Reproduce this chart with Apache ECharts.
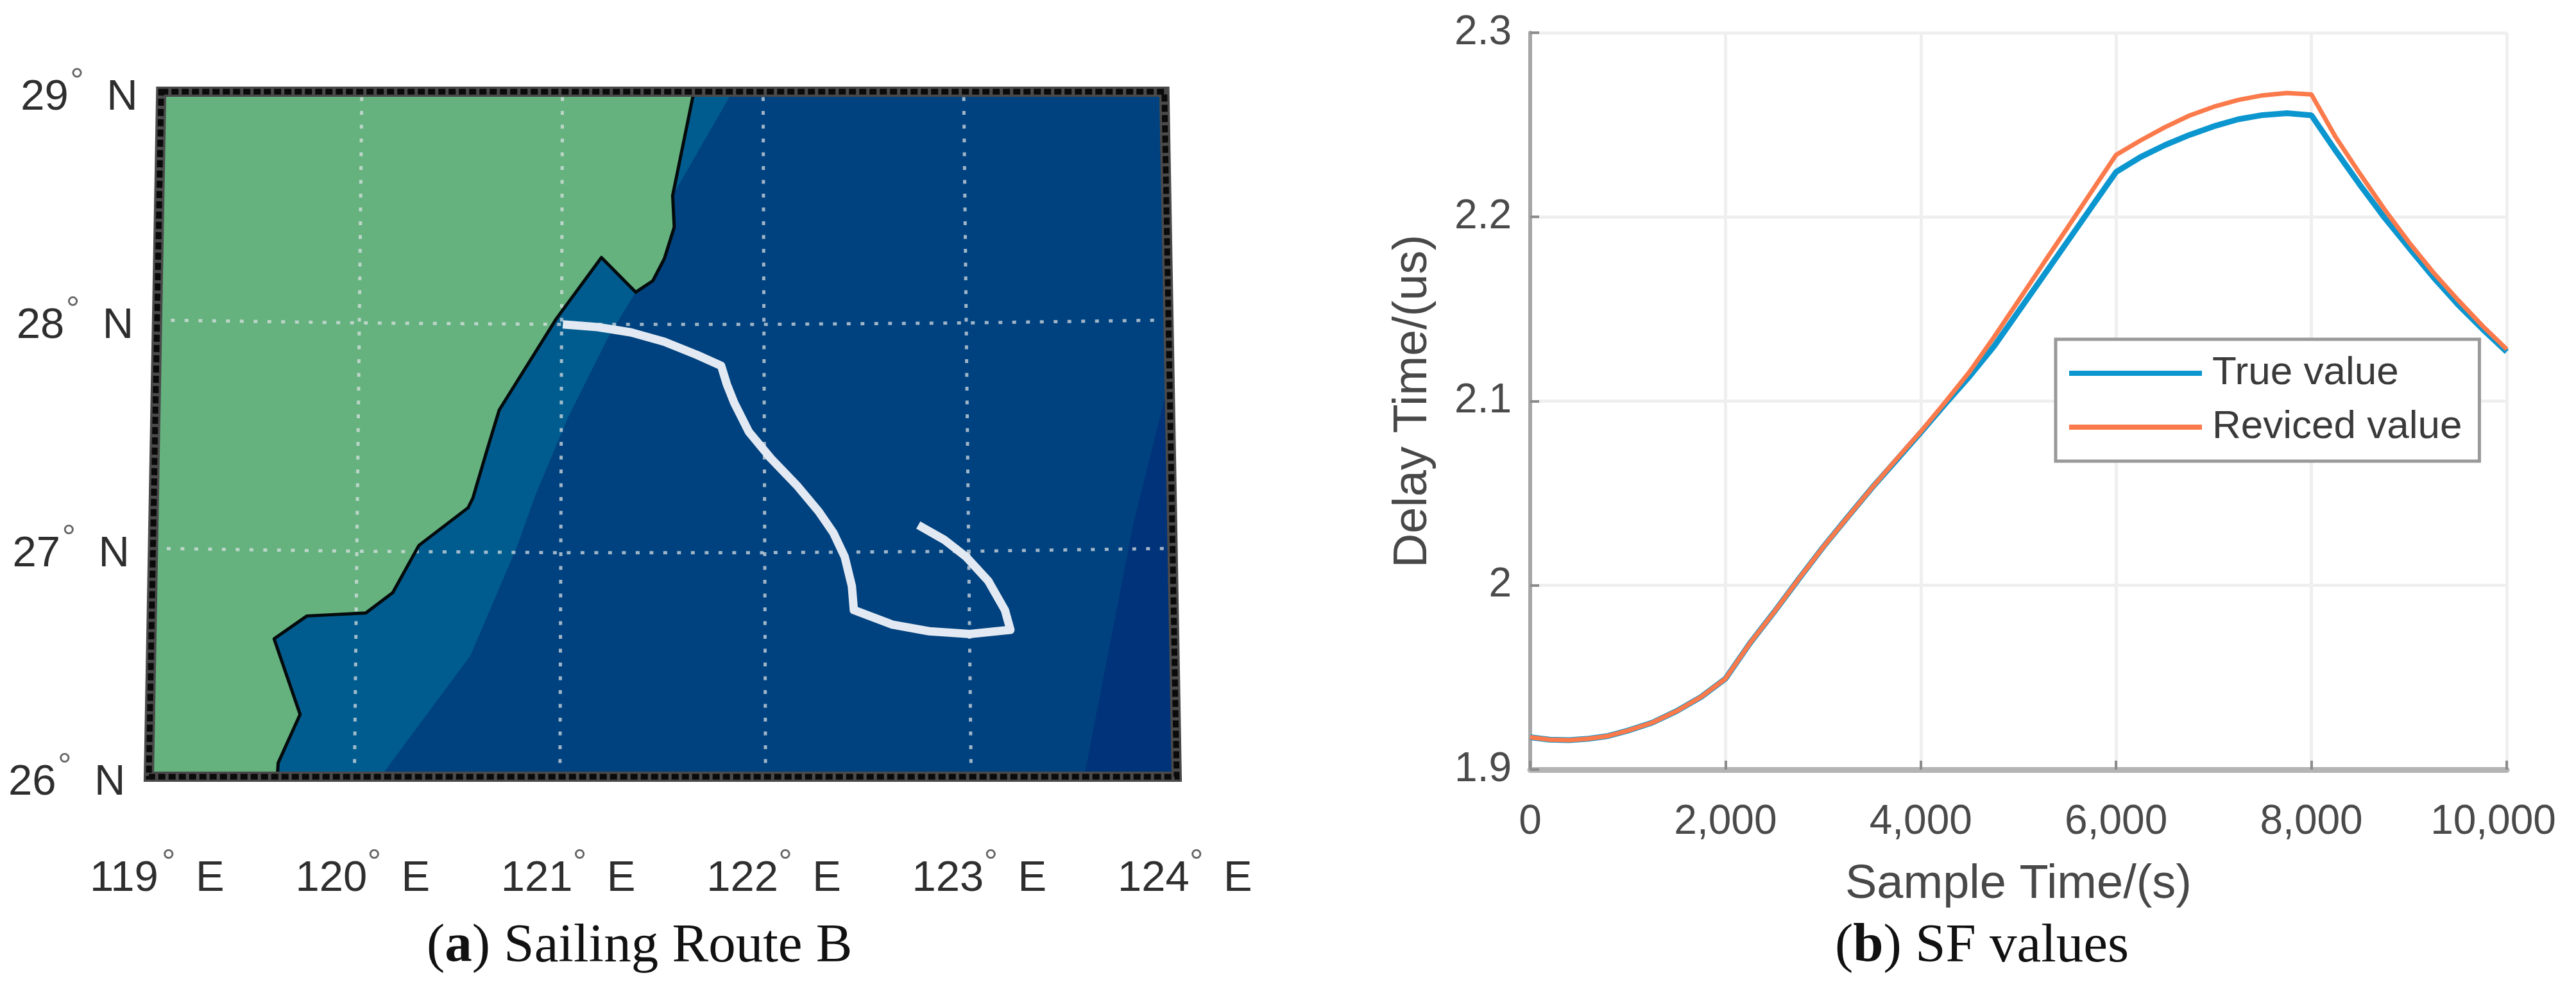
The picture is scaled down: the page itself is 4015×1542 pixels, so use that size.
<!DOCTYPE html>
<html>
<head>
<meta charset="utf-8">
<title>Sailing Route B and SF values</title>
<script src="https://cdn.jsdelivr.net/npm/echarts@6/dist/echarts.min.js"></script>
<style>
html, body { margin: 0; padding: 0; background: #fff; }
#chart { width: 4015px; height: 1542px; }
</style>
</head>
<body>
<div id="chart"></div>
<script>
// left panel, everything is [lon, lat]
var lonTicks = [119, 120, 121, 122, 123, 124]
var latTicks = [26, 27, 28, 29]
var frame = [[119, 29], [124, 29], [124, 26], [119, 26]]
var coast = [[121.655, 29], [121.549, 28.545], [121.557, 28.407], [121.508, 28.269], [121.451, 28.172], [121.366, 28.122],
	[121.196, 28.274], [120.974, 28.006], [120.694, 27.606], [120.634, 27.427], [120.567, 27.22], [120.544, 27.178],
	[120.304, 27.013], [120.178, 26.806], [120.047, 26.717], [119.759, 26.704], [119.6, 26.604], [119.732, 26.273],
	[119.628, 26.06], [119.625, 26]]
var shelfNorth = [[121.655, 29], [121.847, 29], [121.549, 28.545]]
var shelfEdge = [[120.127, 26], [120.56, 26.53], [120.786, 27.01], [120.873, 27.231], [121.036, 27.579], [121.141, 27.766], [121.233, 27.929]]
var deepEast = [[124, 27.744], [123.81, 27.109], [123.55, 26], [124, 26]]
var route = [[121.006, 27.981], [121.179, 27.969], [121.343, 27.946], [121.507, 27.905], [121.67, 27.847], [121.788, 27.8],
	[121.816, 27.719], [121.852, 27.638], [121.924, 27.51], [122.032, 27.394], [122.158, 27.277], [122.266, 27.161],
	[122.338, 27.067], [122.392, 26.963], [122.426, 26.835], [122.435, 26.73], [122.623, 26.666], [122.803, 26.637],
	[123.001, 26.625], [123.2, 26.643], [123.174, 26.73], [123.094, 26.858], [122.987, 26.963], [122.88, 27.038], [122.754, 27.102]]

// right panel
var sampleTimes = [0, 200, 400, 600, 800, 1000, 1250, 1500, 1750, 2000, 2250, 2500, 2750, 3000, 3250, 3500, 3750, 4000,
	4250, 4500, 4750, 5000, 5250, 5500, 5750, 6000, 6250, 6500, 6750, 7000, 7250, 7500, 7750, 8000,
	8250, 8500, 8750, 9000, 9250, 9500, 9750, 10000]
var trueValues = [1.9176, 1.9163, 1.916, 1.9168, 1.9183, 1.9212, 1.9255, 1.9318, 1.9395, 1.9494, 1.9686, 1.9857, 2.0035, 2.0208, 2.037, 2.053, 2.068, 2.083,
	2.0985, 2.1135, 2.1298, 2.1487, 2.1676, 2.1865, 2.2055, 2.2244, 2.2325, 2.239, 2.2445, 2.2492, 2.253, 2.2553, 2.2563, 2.2552,
	2.2358, 2.2172, 2.1995, 2.1832, 2.1672, 2.1525, 2.1393, 2.1268]
var revicedValues = [1.9176, 1.9163, 1.916, 1.9168, 1.9183, 1.9212, 1.9255, 1.9318, 1.9395, 1.9494, 1.9686, 1.9857, 2.0035, 2.0208, 2.037, 2.053, 2.0685, 2.0835,
	2.0995, 2.116, 2.1348, 2.1545, 2.1743, 2.194, 2.2139, 2.2337, 2.2415, 2.2487, 2.255, 2.2598, 2.2635, 2.266, 2.2673, 2.2665,
	2.2432, 2.2232, 2.204, 2.1862, 2.1698, 2.155, 2.141, 2.1282]

var SANS = 'Liberation Sans'
var SERIF = 'Liberation Serif'
var TOP_SHRINK = 0.976 // the map frame is narrower at the top

function project(api, p, bow) {
	var c = api.coord(p)
	var left = api.coord([119, 26])[0], right = api.coord([124, 26])[0]
	var top = api.coord([119, 29])[1], bottom = api.coord([119, 26])[1]
	var mid = (left + right) / 2
	var k = TOP_SHRINK + (1 - TOP_SHRINK) * (c[1] - top) / (bottom - top)
	var u = (p[0] - 121.5) / 2.5
	return [mid + (c[0] - mid) * k, c[1] + (bow ? bow * (1 - u * u) : 0)]
}

function shapeSeries(type, points, style) {
	return {
		type: 'custom', xAxisIndex: 0, yAxisIndex: 0, coordinateSystem: 'cartesian2d', clip: false, silent: true,
		data: points, encode: { x: 0, y: 1 },
		renderItem: function (params, api) {
			if (params.dataIndex !== 0) return null
			return { type: type, shape: { points: points.map(function (p) { return project(api, p) }) }, style: style }
		}
	}
}

function gridSeries() {
	var dots = { fill: null, stroke: 'rgba(222,226,228,0.72)', lineWidth: 5, lineDash: [6, 15.5] }
	var lines = []
	lonTicks.slice(1, 5).forEach(function (lon) { lines.push([[lon, 26], [lon, 29]]) })
	latTicks.slice(1, 3).forEach(function (lat) {
		lines.push(lonTicks.map(function (lon) { return [lon, lat] }))
	})
	return {
		type: 'custom', xAxisIndex: 0, yAxisIndex: 0, coordinateSystem: 'cartesian2d', clip: false, silent: true,
		data: lines.map(function (l, i) { return [i] }), encode: { x: -1, y: -1 },
		renderItem: function (params, api) {
			var line = lines[params.dataIndex]
			return {
				type: 'polyline',
				shape: { points: line.map(function (p) { return project(api, p, line[0][1] === line[1][1] ? 7 : 0) }) },
				style: dots
			}
		}
	}
}

// "119° E": number, small raised degree ring, letter. y is the baseline of the number
function tickLabel(x, y, num, letter, degX, letterX) {
	var color = '#2e2e2e'
	var part = function (dx, dy, text, size, fill) {
		return { type: 'text', x: x + dx, y: y + dy, style: { text: text, font: size + 'px ' + SANS, fill: fill, verticalAlign: 'middle' } }
	}
	return {
		type: 'group',
		children: [
			part(0, -23, String(num), 67, color),
			part(degX, -47, '°', 54, '#666'),
			part(letterX, -23, letter, 67, color)
		]
	}
}

function labelSeries(values, build) {
	return {
		type: 'custom', xAxisIndex: 0, yAxisIndex: 0, coordinateSystem: 'cartesian2d', clip: false, silent: true,
		data: values.map(function (v) { return [v] }), encode: { x: -1, y: -1 },
		renderItem: function (params, api) { return build(api, values[params.dataIndex]) }
	}
}

var chart = echarts.init(document.getElementById('chart'))

chart.setOption({
	backgroundColor: '#ffffff',
	animation: false,
	title: [{
		text: '({b|a}) Sailing Route B', left: 660, top: 1429,
		textStyle: { fontFamily: SERIF, fontWeight: 'normal', fontSize: 85, color: '#111', rich: { b: { fontFamily: SERIF, fontWeight: 'bold', fontSize: 85, color: '#111' } } }
	}, {
		text: '({b|b}) SF values', left: 2855, top: 1429,
		textStyle: { fontFamily: SERIF, fontWeight: 'normal', fontSize: 85, color: '#111', rich: { b: { fontFamily: SERIF, fontWeight: 'bold', fontSize: 85, color: '#111' } } }
	}],
	legend: {
		data: ['True value', 'Reviced value'], orient: 'vertical', left: 3204, top: 529,
		padding: [22, 27, 22, 21], icon: 'rect', itemWidth: 207, itemHeight: 8, itemGap: 22,
		backgroundColor: '#fff', borderColor: '#999', borderWidth: 5,
		textStyle: { fontFamily: SANS, fontSize: 62, color: '#3a3a3a', lineHeight: 62, padding: [0, 0, 0, 11] }
	},
	grid: [
		{ left: 232, width: 1602, top: 143, height: 1068 },
		{ left: 2385, width: 1522, top: 51, height: 1149 }
	],
	xAxis: [
		{ gridIndex: 0, type: 'value', min: 119, max: 124, show: false },
		{
			gridIndex: 1, type: 'value', min: 0, max: 10000, interval: 2000,
			name: 'Sample Time/(s)', nameLocation: 'middle', nameGap: 143,
			nameTextStyle: { fontFamily: SANS, fontSize: 74, color: '#484848' },
			axisLine: { show: true, lineStyle: { color: '#b4b4b4', width: 9 } },
			axisTick: { show: true, inside: true, length: 14, lineStyle: { color: '#8c8c8c', width: 4 } },
			axisLabel: {
				fontFamily: SANS, fontSize: 64, color: '#4a4a4a', margin: 50, showMinLabel: true, showMaxLabel: true,
				formatter: function (v) {
					var s = v.toLocaleString('en-US')
					return v === 10000 ? '{last|' + s + '}' : s
				},
				rich: { last: { fontFamily: SANS, fontSize: 64, color: '#4a4a4a', padding: [0, 42, 0, 0] } }
			},
			splitLine: { show: true, lineStyle: { color: '#efefef', width: 5 } }
		}
	],
	yAxis: [
		{ gridIndex: 0, type: 'value', min: 26, max: 29, show: false },
		{
			gridIndex: 1, type: 'value', min: 1.9, max: 2.3, interval: 0.1,
			name: 'Delay Time/(us)', nameLocation: 'middle', nameGap: 145, nameRotate: 90,
			nameTextStyle: { fontFamily: SANS, fontSize: 74, color: '#484848' },
			axisLine: { show: true, lineStyle: { color: '#a6a6a6', width: 6 } },
			axisTick: { show: true, inside: true, length: 14, lineStyle: { color: '#8c8c8c', width: 4 } },
			axisLabel: { fontFamily: SANS, fontSize: 64, color: '#4a4a4a', margin: 29, showMinLabel: true, showMaxLabel: true },
			splitLine: { show: true, lineStyle: { color: '#efefef', width: 5 } }
		}
	],
	series: [
		shapeSeries('polygon', frame, { fill: '#00427f' }),
		shapeSeries('polygon', deepEast, { fill: '#00337a' }),
		shapeSeries('polygon', shelfNorth, { fill: '#005c8e' }),
		shapeSeries('polygon', coast.slice(5).concat(shelfEdge), { fill: '#005c8e' }),
		shapeSeries('polygon', [[119, 29]].concat(coast, [[119, 26]]), { fill: '#65b27f' }),
		gridSeries(),
		shapeSeries('polyline', coast, { fill: null, stroke: '#050a0c', lineWidth: 5, lineJoin: 'round' }),
		shapeSeries('polyline', route, { fill: null, stroke: '#e3e9f2', lineWidth: 13, lineJoin: 'round' }),
		shapeSeries('polygon', frame, { fill: null, stroke: '#4a4a4a', lineWidth: 16 }),
		shapeSeries('polygon', frame, { fill: null, stroke: '#0a0a0a', lineWidth: 9, lineDash: [11, 5] }),
		labelSeries(lonTicks, function (api, lon) {
			var p = project(api, [lon, 26])
			return tickLabel(p[0] - 92, 1394, lon, 'E', 112, 165)
		}),
		labelSeries(latTicks, function (api, lat) {
			var p = project(api, [119, lat])
			return tickLabel(p[0] - 219, p[1] + 33, lat, 'N', 77, 134)
		}),
		{
			name: 'True value', type: 'line', xAxisIndex: 1, yAxisIndex: 1, showSymbol: false,
			data: sampleTimes.map(function (t, i) { return [t, trueValues[i]] }),
			lineStyle: { color: '#0b96cf', width: 9 }, itemStyle: { color: '#0b96cf' }
		},
		{
			name: 'Reviced value', type: 'line', xAxisIndex: 1, yAxisIndex: 1, showSymbol: false,
			data: sampleTimes.map(function (t, i) { return [t, revicedValues[i]] }),
			lineStyle: { color: '#fb7a4b', width: 7 }, itemStyle: { color: '#fb7a4b' }
		}
	]
})
</script>
</body>
</html>
